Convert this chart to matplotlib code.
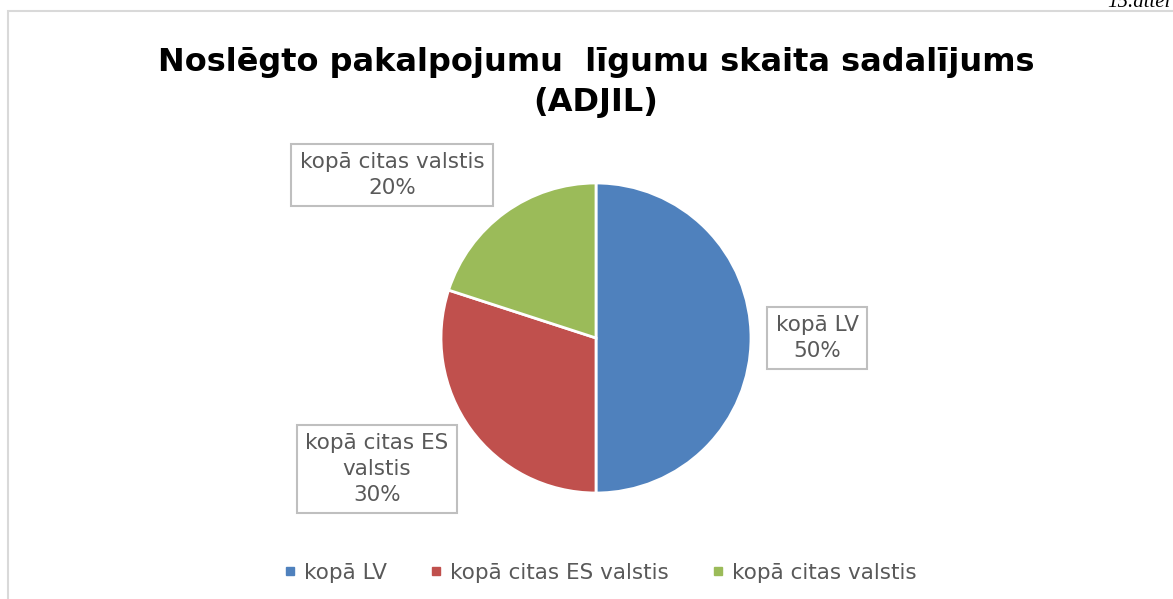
import matplotlib

matplotlib.use("agg")
import matplotlib.pyplot as plt
from matplotlib.lines import Line2D
from matplotlib.patches import Rectangle

# data
categories = ["kopā LV", "kopā citas ES valstis", "kopā citas valstis"]
label_text = ["kopā LV", "kopā citas ES\nvalstis", "kopā citas valstis"]
shares = [50, 30, 20]
colors = ["#4F81BD", "#C0504D", "#9BBB59"]

W, H = 1173, 599
fig = plt.figure(figsize=(W / 100, H / 100), dpi=100)
fig.patch.set_facecolor("white")


def fx(px):
    return px / W


def fy(py):
    return 1 - py / H


# chart frame (only top and left edge visible in the crop)
fig.patches.append(Rectangle((fx(8), fy(650)), fx(1300), fy(11) - fy(650),
                             transform=fig.transFigure, fill=False,
                             edgecolor="#D9D9D9", linewidth=1.5))

# caption in the top right corner (cut off by the page crop in the original)
fig.text(fx(1171), fy(7), "15.attēl", ha="right", va="baseline",
         family="Liberation Serif", style="italic", fontsize=15, color="black")

fig.text(fx(596), fy(62), "Noslēgto pakalpojumu  līgumu skaita sadalījums",
         ha="center", va="center", fontsize=23, fontweight="bold", color="black")
fig.text(fx(596), fy(103), "(ADJIL)", ha="center", va="center",
         fontsize=23, fontweight="bold", color="black")

cx, cy, r = 596, 338, 155
ax = fig.add_axes([fx(cx - r), fy(cy + r), 2 * r / W, 2 * r / H])
wedges, _ = ax.pie(shares, colors=colors, startangle=90, counterclock=False,
                   wedgeprops=dict(edgecolor="white", linewidth=2))
ax.set_xlim(-1, 1)
ax.set_ylim(-1, 1)
ax.set_aspect("equal")
ax.axis("off")

label_pos = [(817, 338), (377, 469), (392, 175)]
for txt, val, (lx, ly) in zip(label_text, shares, label_pos):
    fig.text(fx(lx), fy(ly), f"{txt}\n{val}%", ha="center", va="center",
             fontsize=15.5, color="#595959", linespacing=1.35,
             bbox=dict(boxstyle="square,pad=0.4", facecolor="white",
                       edgecolor="#BFBFBF", linewidth=1.5))

handles = [Line2D([], [], marker="s", linestyle="none", markersize=6,
                  markerfacecolor=c, markeredgecolor=c) for c in colors]
fig.legend(handles, categories, loc="center", ncol=3,
           bbox_to_anchor=(fx(600), fy(573)), frameon=False,
           fontsize=15.5, labelcolor="#595959", handlelength=0.6,
           handletextpad=0.35, columnspacing=2.0)

fig.savefig("out.png", dpi=100, facecolor="white")
